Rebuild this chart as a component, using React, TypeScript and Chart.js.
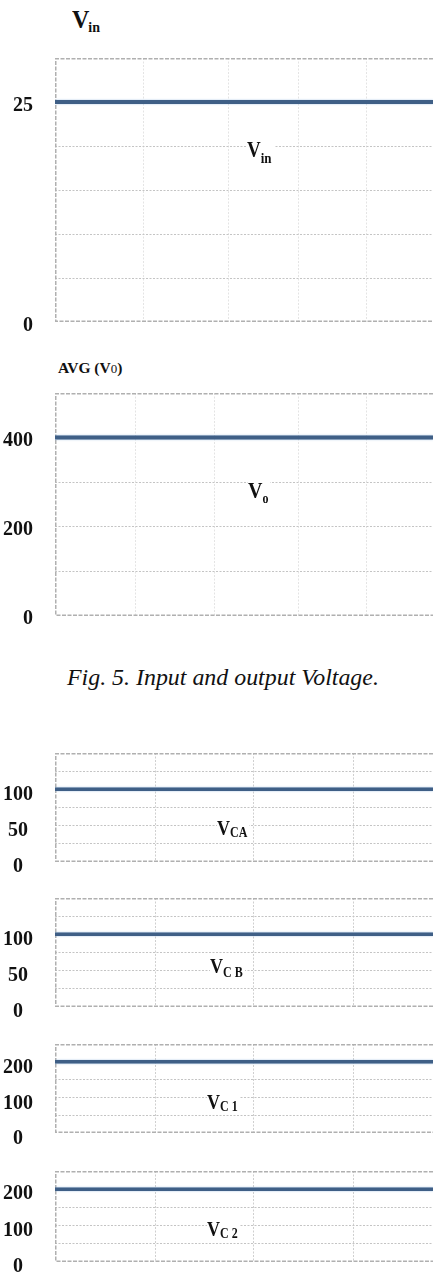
import React, { useEffect, useRef } from "react";
import { Chart, registerables } from "chart.js";

Chart.register(...registerables);

// ---------- data ----------
const timeAxis = [0, 100];

const vinValues = [25, 25];
const voValues = [400, 400];
const vcaValues = [100, 100];
const vcbValues = [100, 100];
const vc1Values = [200, 200];
const vc2Values = [200, 200];

const vinTickLabels = [0, 25];
const voTickLabels = [0, 200, 400];
const vcaTickLabels = [0, 50, 100];
const vcbTickLabels = [0, 50, 100];
const vc1TickLabels = [0, 100, 200];
const vc2TickLabels = [0, 100, 200];

const vinTimeGrid = [23.3, 46, 64.3, 82.5];
const voTimeGrid = [21.2, 42.1, 64.3, 82.5];
const capTimeGrid = [26.5, 52.6, 79.1];

// ---------- styles ----------
const SERIF = "'Liberation Serif', 'Times New Roman', serif";
const LINE_COLOR = "#3f5f86";
const PAD = 16;

type Spec = {
  top: number;
  bottom: number;
  min: number;
  max: number;
  step: number;
  values: number[];
  ticks: number[];
  timeGrid: number[];
  lineWidth: number;
  vGridColor: string;
  crossAlign: "near" | "center" | "far";
  labelOffset: number;
};

const panels: Spec[] = [
  { top: 58, bottom: 322, min: 0, max: 30, step: 5, values: vinValues, ticks: vinTickLabels, timeGrid: vinTimeGrid, lineWidth: 4, vGridColor: "#e4e4e4", crossAlign: "near", labelOffset: 4 },
  { top: 393, bottom: 616, min: 0, max: 500, step: 100, values: voValues, ticks: voTickLabels, timeGrid: voTimeGrid, lineWidth: 4, vGridColor: "#e4e4e4", crossAlign: "near", labelOffset: 3 },
  { top: 753, bottom: 862, min: 0, max: 150, step: 25, values: vcaValues, ticks: vcaTickLabels, timeGrid: capTimeGrid, lineWidth: 3.5, vGridColor: "#cfcfcf", crossAlign: "center", labelOffset: 5 },
  { top: 898, bottom: 1007, min: 0, max: 150, step: 25, values: vcbValues, ticks: vcbTickLabels, timeGrid: capTimeGrid, lineWidth: 3.5, vGridColor: "#cfcfcf", crossAlign: "center", labelOffset: 5 },
  { top: 1044, bottom: 1133, min: 0, max: 250, step: 50, values: vc1Values, ticks: vc1TickLabels, timeGrid: capTimeGrid, lineWidth: 3.5, vGridColor: "#cfcfcf", crossAlign: "center", labelOffset: 6 },
  { top: 1171, bottom: 1262, min: 0, max: 250, step: 50, values: vc2Values, ticks: vc2TickLabels, timeGrid: capTimeGrid, lineWidth: 3.5, vGridColor: "#cfcfcf", crossAlign: "center", labelOffset: 5 },
];

const framePlugin = {
  id: "frame",
  beforeDatasetsDraw(chart: any) {
    const { ctx, chartArea } = chart;
    const { left, top, bottom, right } = chartArea;
    ctx.save();
    ctx.strokeStyle = "#b0b0b0";
    ctx.lineWidth = 1.5;
    ctx.setLineDash([4, 1.5]);
    ctx.beginPath();
    ctx.moveTo(right, top + 0.75);
    ctx.lineTo(left + 0.75, top + 0.75);
    ctx.lineTo(left + 0.75, bottom - 0.75);
    ctx.lineTo(right, bottom - 0.75);
    ctx.stroke();
    ctx.restore();
    // soft light halo around the trace, as in the scanned figure
    ctx.save();
    ctx.shadowColor = "rgba(120,165,210,0.7)";
    ctx.shadowBlur = 2;
  },
  afterDatasetsDraw(chart: any) {
    chart.ctx.restore();
  },
};

function Panel({ spec }: { spec: Spec }) {
  const ref = useRef<HTMLCanvasElement>(null);
  const h = spec.bottom - spec.top + 2 * PAD;

  useEffect(() => {
    if (!ref.current) return;
    const chart = new Chart(ref.current, {
      type: "line",
      data: {
        datasets: [
          {
            data: timeAxis.map((t, i) => ({ x: t, y: spec.values[i] })),
            borderColor: LINE_COLOR,
            borderWidth: spec.lineWidth,
            pointRadius: 0,
            tension: 0,
            fill: false,
          },
        ],
      },
      options: {
        animation: false,
        responsive: false,
        maintainAspectRatio: false,
        devicePixelRatio: 1,
        layout: { padding: { top: PAD, bottom: PAD, left: 0, right: 0 } },
        plugins: {
          legend: { display: false },
          tooltip: { enabled: false },
          title: { display: false },
        },
        scales: {
          x: {
            type: "linear",
            min: 0,
            max: 100,
            afterBuildTicks: (s: any) => {
              s.ticks = spec.timeGrid.map((v) => ({ value: v }));
            },
            afterFit: (s: any) => {
              s.height = 0;
              s.paddingLeft = 0;
              s.paddingRight = 0;
              s.paddingTop = 0;
              s.paddingBottom = 0;
            },
            ticks: { display: false },
            grid: { color: spec.vGridColor, lineWidth: 1, drawTicks: false },
            border: { display: false, dash: [2, 1.5] },
          },
          y: {
            type: "linear",
            min: spec.min,
            max: spec.max,
            afterFit: (s: any) => {
              s.width = 55;
              s.paddingTop = 0;
              s.paddingBottom = 0;
            },
            ticks: {
              stepSize: spec.step,
              autoSkip: false,
              callback: (v: any) => (spec.ticks.includes(Number(v)) ? String(v) : ""),
              font: { family: SERIF, size: 20, weight: "bold" },
              color: "#111",
              padding: 22,
              crossAlign: spec.crossAlign,
              labelOffset: spec.labelOffset,
            },
            grid: {
              drawTicks: false,
              lineWidth: 1,
              color: (ctx: any) =>
                ctx.tick && (ctx.tick.value === spec.min || ctx.tick.value === spec.max)
                  ? "rgba(0,0,0,0)"
                  : "#c4c4c4",
            },
            border: { display: false, dash: [2, 1.5] },
          },
        },
      } as any,
      plugins: [framePlugin],
    });
    return () => chart.destroy();
  }, []);

  return (
    <canvas
      ref={ref}
      width={433}
      height={h}
      style={{ position: "absolute", left: 0, top: spec.top - PAD, width: 433, height: h }}
    />
  );
}

function Label({
  left,
  top,
  size,
  main,
  sub,
  subSize,
  subDrop,
  gap = 0,
  stretch = 1.2,
}: {
  left: number;
  top: number;
  size: number;
  main: string;
  sub: string;
  subSize: number;
  subDrop: number;
  gap?: number;
  stretch?: number;
}) {
  return (
    <div
      style={{
        position: "absolute",
        left,
        top,
        fontFamily: SERIF,
        fontWeight: "bold",
        fontSize: size,
        lineHeight: 1,
        color: "#111",
        background: "#fff",
        whiteSpace: "nowrap",
        padding: "0 2px 0 0",
        transform: `scaleY(${stretch})`,
        transformOrigin: "left 84%",
      }}
    >
      {main}
      <span
        style={{
          fontSize: subSize,
          position: "relative",
          top: subDrop,
          marginLeft: gap,
        }}
      >
        {sub}
      </span>
    </div>
  );
}

export default function App() {
  return (
    <div
      style={{
        position: "absolute",
        left: 0,
        top: 0,
        width: 433,
        height: 1275,
        background: "#fff",
        overflow: "hidden",
      }}
    >
      {panels.map((p, i) => (
        <Panel key={i} spec={p} />
      ))}

      {/* panel titles */}
      <Label left={72} top={8} size={24} main="V" sub="in" subSize={14} subDrop={4} gap={-1} stretch={1.05} />
      <div
        style={{
          position: "absolute",
          left: 58,
          top: 360,
          fontFamily: SERIF,
          fontWeight: "bold",
          fontSize: 15.5,
          lineHeight: 1,
          color: "#111",
          whiteSpace: "nowrap",
        }}
      >
        AVG (V<span style={{ fontWeight: "normal", fontSize: 13 }}>0</span>)
      </div>

      {/* in-plot labels */}
      <Label left={247} top={141} size={19} main="V" sub="in" subSize={13} subDrop={5} />
      <Label left={248} top={481} size={20} main="V" sub="o" subSize={12} subDrop={4} />
      <Label left={217} top={820} size={18} main="V" sub="CA" subSize={12} subDrop={2} />
      <Label left={210} top={958} size={18} main="V" sub="C B" subSize={12} subDrop={3} />
      <Label left={207} top={1094} size={18} main="V" sub="C 1" subSize={12} subDrop={2} />
      <Label left={207} top={1221} size={18} main="V" sub="C 2" subSize={12} subDrop={2} />

      {/* caption */}
      <div
        style={{
          position: "absolute",
          left: 67,
          top: 666,
          fontFamily: SERIF,
          fontStyle: "italic",
          fontSize: 23.9,
          lineHeight: 1,
          color: "#111",
          whiteSpace: "nowrap",
        }}
      >
        Fig. 5. Input and output Voltage.
      </div>
    </div>
  );
}
